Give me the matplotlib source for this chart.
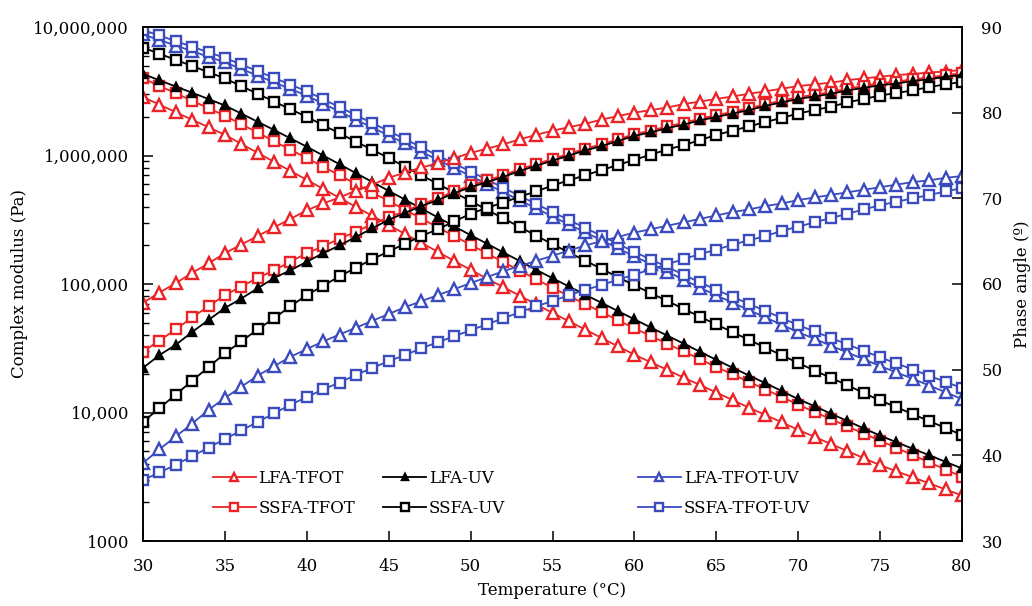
import matplotlib
matplotlib.use("Agg")
import matplotlib.pyplot as plt
from matplotlib.legend import Legend

plt.rcParams['font.family'] = ['DejaVu Serif']
plt.rcParams['font.size'] = 12

# temperature (degC), one reading per degree
temps = list(range(30, 81))

# complex modulus (Pa)
g_lfa_tfot = [2.85e6, 2.49e6, 2.17e6, 1.90e6, 1.66e6, 1.45e6, 1.23e6, 1.05e6, 8.91e5, 7.59e5,
              6.46e5, 5.50e5, 4.68e5, 3.98e5, 3.39e5, 2.88e5, 2.45e5, 2.09e5, 1.78e5, 1.51e5,
              1.29e5, 1.10e5, 9.46e4, 8.11e4, 6.95e4, 5.96e4, 5.13e4, 4.42e4, 3.80e4, 3.27e4,
              2.82e4, 2.46e4, 2.15e4, 1.87e4, 1.64e4, 1.43e4, 1.25e4, 1.09e4, 9.57e3, 8.38e3,
              7.33e3, 6.46e3, 5.69e3, 5.01e3, 4.42e3, 3.89e3, 3.49e3, 3.13e3, 2.81e3, 2.52e3, 2.26e3]
g_ssfa_tfot = [3.98e6, 3.48e6, 3.05e6, 2.67e6, 2.33e6, 2.04e6, 1.75e6, 1.51e6, 1.29e6, 1.11e6,
               9.55e5, 8.18e5, 7.01e5, 6.01e5, 5.15e5, 4.42e5, 3.78e5, 3.23e5, 2.76e5, 2.36e5,
               2.02e5, 1.73e5, 1.48e5, 1.27e5, 1.09e5, 9.33e4, 8.07e4, 6.98e4, 6.04e4, 5.22e4,
               4.52e4, 3.94e4, 3.43e4, 2.99e4, 2.60e4, 2.26e4, 1.98e4, 1.73e4, 1.51e4, 1.32e4,
               1.15e4, 1.01e4, 8.87e3, 7.80e3, 6.86e3, 6.03e3, 5.30e3, 4.66e3, 4.09e3, 3.60e3, 3.16e3]
g_lfa_uv = [4.31e6, 3.85e6, 3.44e6, 3.08e6, 2.75e6, 2.45e6, 2.12e6, 1.83e6, 1.58e6, 1.36e6,
            1.17e6, 1.00e6, 8.55e5, 7.29e5, 6.22e5, 5.31e5, 4.53e5, 3.86e5, 3.30e5, 2.81e5,
            2.40e5, 2.06e5, 1.76e5, 1.51e5, 1.29e5, 1.11e5, 9.57e4, 8.26e4, 7.13e4, 6.15e4,
            5.31e4, 4.59e4, 3.97e4, 3.44e4, 2.97e4, 2.57e4, 2.23e4, 1.94e4, 1.69e4, 1.47e4,
            1.27e4, 1.12e4, 9.79e3, 8.59e3, 7.53e3, 6.61e3, 5.87e3, 5.22e3, 4.65e3, 4.13e3, 3.67e3]
g_ssfa_uv = [6.92e6, 6.19e6, 5.55e6, 4.97e6, 4.45e6, 3.98e6, 3.47e6, 3.02e6, 2.63e6, 2.29e6,
             2.00e6, 1.72e6, 1.49e6, 1.28e6, 1.11e6, 9.55e5, 8.18e5, 7.01e5, 6.01e5, 5.15e5,
             4.42e5, 3.78e5, 3.24e5, 2.78e5, 2.38e5, 2.04e5, 1.76e5, 1.52e5, 1.31e5, 1.13e5,
             9.77e4, 8.49e4, 7.38e4, 6.41e4, 5.57e4, 4.84e4, 4.22e4, 3.67e4, 3.20e4, 2.79e4,
             2.43e4, 2.12e4, 1.86e4, 1.63e4, 1.42e4, 1.24e4, 1.10e4, 9.70e3, 8.57e3, 7.57e3, 6.68e3]
g_lfa_tfot_uv = [8.75e6, 7.93e6, 7.16e6, 6.49e6, 5.86e6, 5.31e6, 4.72e6, 4.18e6, 3.71e6, 3.29e6,
                 2.92e6, 2.53e6, 2.20e6, 1.90e6, 1.65e6, 1.43e6, 1.24e6, 1.07e6, 9.23e5, 8.00e5,
                 6.92e5, 5.99e5, 5.18e5, 4.48e5, 3.88e5, 3.35e5, 2.91e5, 2.52e5, 2.19e5, 1.89e5,
                 1.64e5, 1.43e5, 1.25e5, 1.08e5, 9.37e4, 8.16e4, 7.15e4, 6.27e4, 5.49e4, 4.81e4,
                 4.22e4, 3.74e4, 3.31e4, 2.93e4, 2.60e4, 2.30e4, 2.05e4, 1.83e4, 1.62e4, 1.44e4, 1.27e4]
g_ssfa_tfot_uv = [9.48e6, 8.59e6, 7.76e6, 7.03e6, 6.35e6, 5.75e6, 5.11e6, 4.53e6, 4.02e6, 3.56e6,
                  3.16e6, 2.74e6, 2.38e6, 2.06e6, 1.79e6, 1.55e6, 1.34e6, 1.16e6, 1.00e6, 8.67e5,
                  7.50e5, 6.49e5, 5.61e5, 4.85e5, 4.20e5, 3.63e5, 3.15e5, 2.73e5, 2.37e5, 2.05e5,
                  1.78e5, 1.55e5, 1.36e5, 1.18e5, 1.03e5, 9.02e4, 7.94e4, 7.00e4, 6.17e4, 5.43e4,
                  4.79e4, 4.27e4, 3.80e4, 3.39e4, 3.02e4, 2.69e4, 2.41e4, 2.16e4, 1.93e4, 1.73e4, 1.55e4]

# phase angle (deg)
p_lfa_tfot = [57.8, 59.0, 60.1, 61.3, 62.4, 63.6, 64.6, 65.6, 66.6, 67.6,
              68.6, 69.4, 70.1, 70.9, 71.6, 72.4, 73.0, 73.6, 74.1, 74.7,
              75.3, 75.8, 76.3, 76.9, 77.4, 77.9, 78.3, 78.7, 79.2, 79.6,
              80.0, 80.3, 80.6, 81.0, 81.3, 81.6, 81.9, 82.2, 82.5, 82.8,
              83.1, 83.3, 83.5, 83.8, 84.0, 84.2, 84.4, 84.5, 84.7, 84.8, 85.0]
p_ssfa_tfot = [52.1, 53.4, 54.7, 56.1, 57.4, 58.7, 59.7, 60.7, 61.6, 62.6,
               63.6, 64.4, 65.3, 66.1, 67.0, 67.8, 68.5, 69.3, 70.0, 70.8,
               71.5, 72.1, 72.7, 73.4, 74.0, 74.6, 75.2, 75.8, 76.3, 76.9,
               77.5, 77.9, 78.4, 78.8, 79.3, 79.7, 80.1, 80.5, 81.0, 81.4,
               81.8, 82.1, 82.4, 82.8, 83.1, 83.4, 83.6, 83.9, 84.1, 84.4, 84.6]
p_lfa_uv = [50.2, 51.7, 52.9, 54.4, 55.8, 57.2, 58.3, 59.5, 60.7, 61.6,
            62.6, 63.6, 64.5, 65.5, 66.5, 67.5, 68.3, 69.1, 69.8, 70.6,
            71.3, 71.9, 72.5, 73.2, 73.8, 74.4, 75.0, 75.6, 76.1, 76.7,
            77.3, 77.7, 78.2, 78.6, 79.1, 79.5, 79.9, 80.3, 80.8, 81.2,
            81.6, 81.9, 82.2, 82.6, 82.9, 83.2, 83.4, 83.7, 83.9, 84.2, 84.4]
p_ssfa_uv = [43.9, 45.5, 47.1, 48.7, 50.3, 51.9, 53.3, 54.7, 56.0, 57.4,
             58.7, 59.8, 60.9, 61.9, 62.9, 63.8, 64.7, 65.6, 66.4, 67.3,
             68.2, 68.9, 69.5, 70.2, 70.8, 71.5, 72.1, 72.7, 73.3, 73.9,
             74.5, 75.1, 75.7, 76.2, 76.8, 77.4, 77.9, 78.4, 78.9, 79.4,
             79.9, 80.3, 80.7, 81.2, 81.6, 82.0, 82.3, 82.6, 83.0, 83.3, 83.6]
p_lfa_tfot_uv = [39.1, 40.7, 42.2, 43.7, 45.3, 46.7, 48.0, 49.3, 50.4, 51.5,
                 52.4, 53.3, 54.1, 54.9, 55.7, 56.5, 57.3, 58.0, 58.7, 59.4,
                 60.1, 60.8, 61.5, 62.1, 62.7, 63.3, 63.9, 64.5, 65.0, 65.5,
                 66.0, 66.4, 66.8, 67.2, 67.6, 68.0, 68.4, 68.7, 69.1, 69.4,
                 69.8, 70.1, 70.4, 70.7, 71.0, 71.3, 71.6, 71.9, 72.1, 72.4, 72.6]
p_ssfa_tfot_uv = [37.1, 38.0, 38.9, 39.9, 40.9, 41.9, 42.9, 43.9, 44.9, 45.9,
                  46.8, 47.7, 48.5, 49.4, 50.2, 51.0, 51.7, 52.5, 53.2, 53.9,
                  54.6, 55.3, 56.0, 56.7, 57.4, 58.0, 58.7, 59.3, 59.9, 60.5,
                  61.1, 61.7, 62.3, 62.9, 63.5, 64.0, 64.6, 65.1, 65.6, 66.2,
                  66.7, 67.2, 67.7, 68.2, 68.7, 69.2, 69.6, 70.0, 70.4, 70.8, 71.2]

labels = ['LFA-TFOT', 'SSFA-TFOT', 'LFA-UV', 'SSFA-UV', 'LFA-TFOT-UV', 'SSFA-TFOT-UV']
moduli = [g_lfa_tfot, g_ssfa_tfot, g_lfa_uv, g_ssfa_uv, g_lfa_tfot_uv, g_ssfa_tfot_uv]
phases = [p_lfa_tfot, p_ssfa_tfot, p_lfa_uv, p_ssfa_uv, p_lfa_tfot_uv, p_ssfa_tfot_uv]

red = '#EC2326'
blue = '#3A4BBE'
styles = [
    dict(color=red, marker='^', ms=8.5, mfc='white', mec=red),
    dict(color=red, marker='s', ms=7.5, mfc='white', mec=red),
    dict(color='black', marker='^', ms=6, mfc='black', mec='black'),
    dict(color='black', marker='s', ms=7.5, mfc='white', mec='black'),
    dict(color=blue, marker='^', ms=8.5, mfc='white', mec=blue),
    dict(color=blue, marker='s', ms=7.5, mfc='white', mec=blue),
]

fig = plt.figure(figsize=(10.32, 6.06), dpi=100)
ax = fig.add_axes([143/1032, 1-541/606, 819/1032, 514/606])
ax2 = ax.twinx()

handles = []
for lab, g, st in zip(labels, moduli, styles):
    h, = ax.plot(temps, g, lw=1.3, mew=1.7, label=lab, **st)
    handles.append(h)
for p, st in zip(phases, styles):
    ax2.plot(temps, p, lw=1.3, mew=1.7, **st)

ax.set_yscale('log')
ax.set_ylim(1000, 1e7)
ax.set_xlim(30, 80)
ax.set_xticks(range(30, 81, 5))
ax.set_yticks([1e3, 1e4, 1e5, 1e6, 1e7])
ax.set_yticklabels(['1000', '10,000', '100,000', '1,000,000', '10,000,000'])
ax.tick_params(axis='both', which='major', direction='in', length=7, width=1.1, pad=10)
ax.tick_params(axis='y', which='minor', direction='in', length=4, width=1.0)
ax.tick_params(axis='x', pad=12)

ax2.set_ylim(30, 90)
ax2.set_yticks(range(30, 91, 10))
ax2.tick_params(axis='y', direction='in', length=7, width=1.1, pad=14)

for a in (ax, ax2):
    for s in a.spines.values():
        s.set_linewidth(1.2)

ax.set_xlabel('Temperature (°C)', labelpad=5)
ax.set_ylabel('Complex modulus (Pa)', labelpad=4)
ax2.set_ylabel('Phase angle (º)', labelpad=8)

# three two-row legend columns, placed like the original
leg_x = [0.081, 0.289, 0.600]
for i in range(3):
    leg = Legend(ax2, handles[2*i:2*i+2], labels[2*i:2*i+2], loc='lower left',
                 bbox_to_anchor=(leg_x[i], 0.04), frameon=False,
                 handlelength=2.6, handletextpad=0.15, labelspacing=0.8,
                 markerscale=0.7, borderaxespad=0, borderpad=0.2)
    ax2.add_artist(leg)

fig.savefig('out.png', dpi=100)
